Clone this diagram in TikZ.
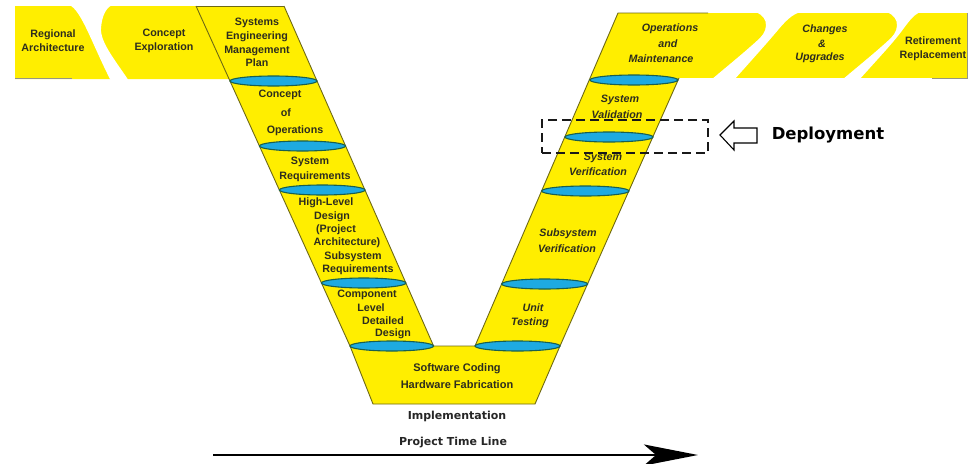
\documentclass[tikz,border=0pt]{standalone}
\usepackage{fontspec}
\setmainfont{Liberation Sans}
\newfontfamily\verdfont{DejaVu Sans}
\usetikzlibrary{shapes.geometric,arrows.meta}
\definecolor{vyellow}{RGB}{255,238,0}
\definecolor{ellfill}{RGB}{30,170,225}
\definecolor{ellline}{RGB}{25,95,80}
\definecolor{vedge}{RGB}{110,105,20}
\definecolor{txt}{RGB}{45,45,30}
\definecolor{bandedge}{RGB}{150,150,130}
\begin{document}
\begin{tikzpicture}[x=1pt,y=-1pt,
  lbl/.style={font=\fontsize{10.7}{13.7}\selectfont\bfseries, text=txt, inner sep=0pt, align=center},
  ilbl/.style={lbl, font=\fontsize{10.7}{13.7}\selectfont\bfseries\itshape},
  bigl/.style={font=\verdfont\fontsize{11}{13}\selectfont\bfseries, text=black!85, inner sep=0pt},
  phase/.style={ellipse, draw=ellline, fill=ellfill, line width=1.1pt, minimum height=10pt, inner sep=0pt},
  vline/.style={draw=vedge, line width=0.9pt, line join=round},
  fold/.style={fill=white}]
\useasboundingbox (0,0) rectangle (976,463);
\fill[white] (0,0) rectangle (976,463);

% ---- top bands ----
\fill[vyellow] (15,6) -- (196,6) -- (229.6,79) -- (15,79) -- cycle;
\fill[vyellow] (660,13) -- (967,13) -- (967,78) -- (660,78) -- cycle;
\draw[bandedge, line width=0.8pt] (15,78.5) -- (72,78.5);
\draw[bandedge, line width=0.8pt] (932,78) -- (967,78) -- (967,13);

% folds between the band segments
\fill[fold] (66,4) .. controls (80,5) and (90,40) .. (111,81)
  -- (129,81) .. controls (115,60) and (100,42) .. (101,28)
  .. controls (102,16) and (106,6) .. (115,4) -- cycle;
\fill[fold] (750,11) .. controls (768,13) and (770,28) .. (760,38)
  .. controls (745,52) and (725,68) .. (711,80)
  -- (734,80) .. controls (750,62) and (768,42) .. (778,30)
  .. controls (788,18) and (795,12) .. (806,11) -- cycle;
\fill[fold] (881,11) .. controls (899,13) and (901,28) .. (891,38)
  .. controls (876,52) and (856,68) .. (842,80)
  -- (859,80) .. controls (875,62) and (892,44) .. (901,32)
  .. controls (910,20) and (915,12) .. (925,11) -- cycle;

% ---- the V ----
\fill[vyellow] (196,6) -- (350,346) -- (373,404) -- (535,404) -- (560,346) -- (708,13)
  -- (618,13) -- (475,346) -- (433.6,346) -- (284,6) -- cycle;
\draw[vline] (196,6) -- (350,346) -- (373,404) -- (535,404) -- (560,346) -- (679,78);
\draw[vline] (284,6) -- (433.6,346) -- (475,346) -- (618,13) -- (708,13);
\draw[vline] (196,6) -- (284,6);

% phase boundaries, left arm
\node[phase, minimum width=87pt] (l1) at (273.5,81) {};
\node[phase, minimum width=86pt] (l2) at (302.5,146) {};
\node[phase, minimum width=85.6pt] (l3) at (322.2,190) {};
\node[phase, minimum width=84.4pt] (l4) at (363.7,283) {};
\node[phase, minimum width=83.6pt] (l5) at (391.8,346) {};
% phase boundaries, right arm
\node[phase, minimum width=88pt] (r1) at (633.9,80) {};
\node[phase, minimum width=88pt] (r2) at (609,137) {};
\node[phase, minimum width=87.3pt] (r3) at (585.3,191) {};
\node[phase, minimum width=85.9pt] (r4) at (544.6,284) {};
\node[phase, minimum width=85pt] (r5) at (517.5,346) {};

% ---- labels on the bands ----
\node[lbl] (reg) at (53,41) {Regional\\Architecture};
\node[lbl] (cex) at (164,41) {Concept\\Exploration};
\node[lbl] (semp) at (257,42.5) {Systems\\Engineering\\Management\\Plan};
\node[ilbl] (ops1) at (670,29) {Operations};
\node[ilbl] (ops2) at (668,44) {and};
\node[ilbl] (ops3) at (661,59) {Maintenance};
\node[ilbl] (chg1) at (825,30) {Changes};
\node[ilbl] (chg2) at (822,44) {\&};
\node[ilbl] (chg3) at (820,58) {Upgrades};
\node[lbl] (ret) at (933,48.5) {Retirement\\Replacement};

% ---- labels on the left arm ----
\node[lbl] (co1) at (280,95) {Concept};
\node[lbl] (co2) at (286,113) {of};
\node[lbl] (co3) at (295,131) {Operations};
\node[lbl] (sr1) at (310,162) {System};
\node[lbl] (sr2) at (315,177) {Requirements};
\node[lbl] (hl1) at (326,203) {High-Level};
\node[lbl] (hl2) at (332,217) {Design};
\node[lbl] (hl3) at (336,230) {(Project};
\node[lbl] (hl4) at (347,243) {Architecture)};
\node[lbl] (hl5) at (353,257) {Subsystem};
\node[lbl] (hl6) at (358,270) {Requirements};
\node[lbl] (cl1) at (367,295) {Component};
\node[lbl] (cl2) at (371,308) {Level};
\node[lbl] (cl3) at (383,321) {Detailed};
\node[lbl] (cl4) at (393,334) {Design};

% ---- bottom ----
\node[lbl, font=\fontsize{11}{17}\selectfont\bfseries] (swc) at (457,376.5) {Software Coding\\Hardware Fabrication};

% ---- labels on the right arm ----
\node[ilbl] (sv1) at (620,100) {System};
\node[ilbl] (sv2) at (617,115) {Validation};
\node[ilbl] (sf1) at (603,158) {System};
\node[ilbl] (sf2) at (598,172) {Verification};
\node[ilbl] (ss1) at (568,234) {Subsystem};
\node[ilbl] (ss2) at (567,249) {Verification};
\node[ilbl] (ut1) at (533,308) {Unit};
\node[ilbl] (ut2) at (530,323) {Testing};

% ---- deployment marker ----
\node[draw=black!90, line width=2.4pt, dash pattern=on 9pt off 5pt, minimum width=166pt,
  minimum height=33pt, inner sep=0pt] (depbox) at (625,136.5) {};
\draw[line width=1.1pt, fill=white, line join=miter] (720,135) -- (734,121) -- (734,128) -- (757,128)
  -- (757,143) -- (734,143) -- (734,150) -- cycle;
\node[bigl, font=\verdfont\fontsize{16.5}{18}\selectfont\bfseries, text=black] (dep) at (828,135) {Deployment};

% ---- implementation and time line ----
\node[bigl] (impl) at (457,416) {Implementation};
\node[bigl] (ptl) at (453,443) {Project Time Line};
\coordinate (t0) at (213,455);
\coordinate (t1) at (698,455);
\draw[line width=2.6pt, -{Stealth[length=54pt,width=21pt,inset=12pt]}] (t0) -- (t1);
\end{tikzpicture}
\end{document}
